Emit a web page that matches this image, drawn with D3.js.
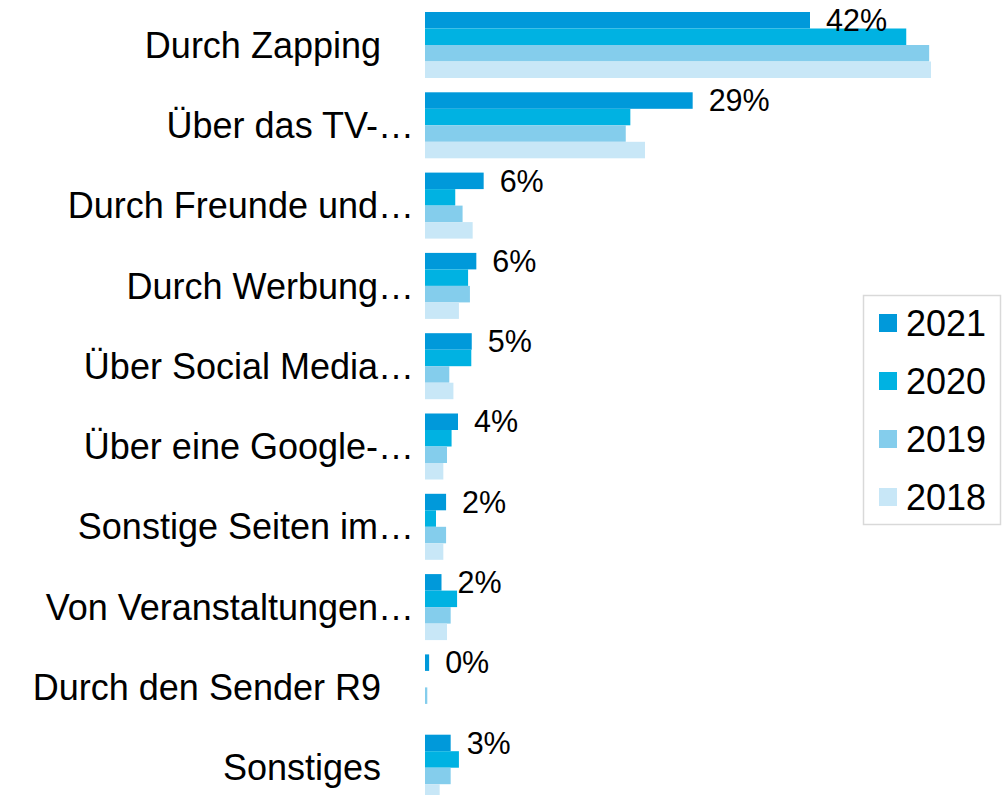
<!DOCTYPE html>
<html>
<head>
<meta charset="utf-8">
<script src="https://cdn.jsdelivr.net/npm/d3@7"></script>
<style>
  html, body { margin: 0; padding: 0; background: #fff; }
  svg { display: block; font-family: "Liberation Sans", Arial, sans-serif; }
</style>
</head>
<body>
<div id="chart"></div>
<script>
// ---------------------------------------------------------------------------
// Data
// ---------------------------------------------------------------------------
const categories = [
  'Durch Zapping',
  'Über das TV-…',
  'Durch Freunde und…',
  'Durch Werbung…',
  'Über Social Media…',
  'Über eine Google-…',
  'Sonstige Seiten im…',
  'Von Veranstaltungen…',
  'Durch den Sender R9',
  'Sonstiges'
];

const years = ['2021', '2020', '2019', '2018'];

const values2021 = [42, 29.2, 6.4, 5.6, 5.1, 3.6, 2.3, 1.8, 0.45, 2.8];
const values2020 = [52.5, 22.4, 3.3, 4.7, 5.05, 2.9, 1.2, 3.5, 0, 3.7];
const values2019 = [55.0, 21.9, 4.1, 4.9, 2.65, 2.4, 2.3, 2.8, 0.25, 2.8];
const values2018 = [55.2, 24.0, 5.2, 3.7, 3.1, 2.0, 2.0, 2.4, 0, 1.6];

const labels2021 = ['42%', '29%', '6%', '6%', '5%', '4%', '2%', '2%', '0%', '3%'];

const COLORS = {
  '2021': '#0099DA',
  '2020': '#00B2E2',
  '2019': '#84CDEC',
  '2018': '#C8E7F7'
};

// ---------------------------------------------------------------------------
// Layout
// ---------------------------------------------------------------------------
const W = 1005, H = 795;
const X0 = 425;

const seriesValues = { '2021': values2021, '2020': values2020, '2019': values2019, '2018': values2018 };

const rows = categories.map((c, i) => ({
  cat: c,
  label: labels2021[i],
  vals: years.map(y => ({ year: y, v: seriesValues[y][i] }))
}));

const svg = d3.select('#chart').append('svg')
  .attr('width', W)
  .attr('height', H);

const x = d3.scaleLinear().domain([0, 42]).range([X0, 810]);

const y = d3.scaleBand()
  .domain(categories)
  .range([4.85, 807.85])
  .paddingInner(0.178)
  .paddingOuter(0.089);

const ySub = d3.scaleBand()
  .domain(years)
  .range([0, y.bandwidth()]);

// Bars
const groups = svg.append('g')
  .selectAll('g')
  .data(rows)
  .join('g')
  .attr('transform', d => `translate(0,${y(d.cat)})`);

groups.selectAll('rect')
  .data(d => d.vals)
  .join('rect')
  .attr('x', X0)
  .attr('y', d => ySub(d.year))
  .attr('width', d => x(d.v) - X0)
  .attr('height', ySub.bandwidth())
  .attr('fill', d => COLORS[d.year]);

// Value labels (2021 only)
groups.append('text')
  .attr('x', d => x(d.vals[0].v) + 16)
  .attr('y', ySub('2021') + ySub.bandwidth() / 2)
  .attr('dy', '0.35em')
  .attr('font-size', '30.5px')
  .attr('fill', '#000')
  .text(d => d.label);

// Category labels
svg.append('g')
  .selectAll('text')
  .data(categories)
  .join('text')
  .attr('x', d => d.endsWith('…') ? 414 : 381)
  .attr('y', d => y(d) + y.bandwidth() / 2)
  .attr('dy', '0.35em')
  .attr('text-anchor', 'end')
  .attr('font-size', '36px')
  .attr('fill', '#000')
  .text(d => d);

// Legend
const legend = svg.append('g');
legend.append('rect')
  .attr('x', 863.5).attr('y', 295.5)
  .attr('width', 137).attr('height', 229)
  .attr('fill', '#fff')
  .attr('stroke', '#D9D9D9')
  .attr('stroke-width', 1.5);

const item = legend.selectAll('g')
  .data(years)
  .join('g')
  .attr('transform', (d, i) => `translate(879,${323 + i * 58})`);

item.append('rect')
  .attr('x', 0).attr('y', -9)
  .attr('width', 18).attr('height', 18)
  .attr('fill', d => COLORS[d]);

item.append('text')
  .attr('x', 27)
  .attr('dy', '0.35em')
  .attr('font-size', '36px')
  .attr('fill', '#000')
  .text(d => d);
</script>
</body>
</html>
